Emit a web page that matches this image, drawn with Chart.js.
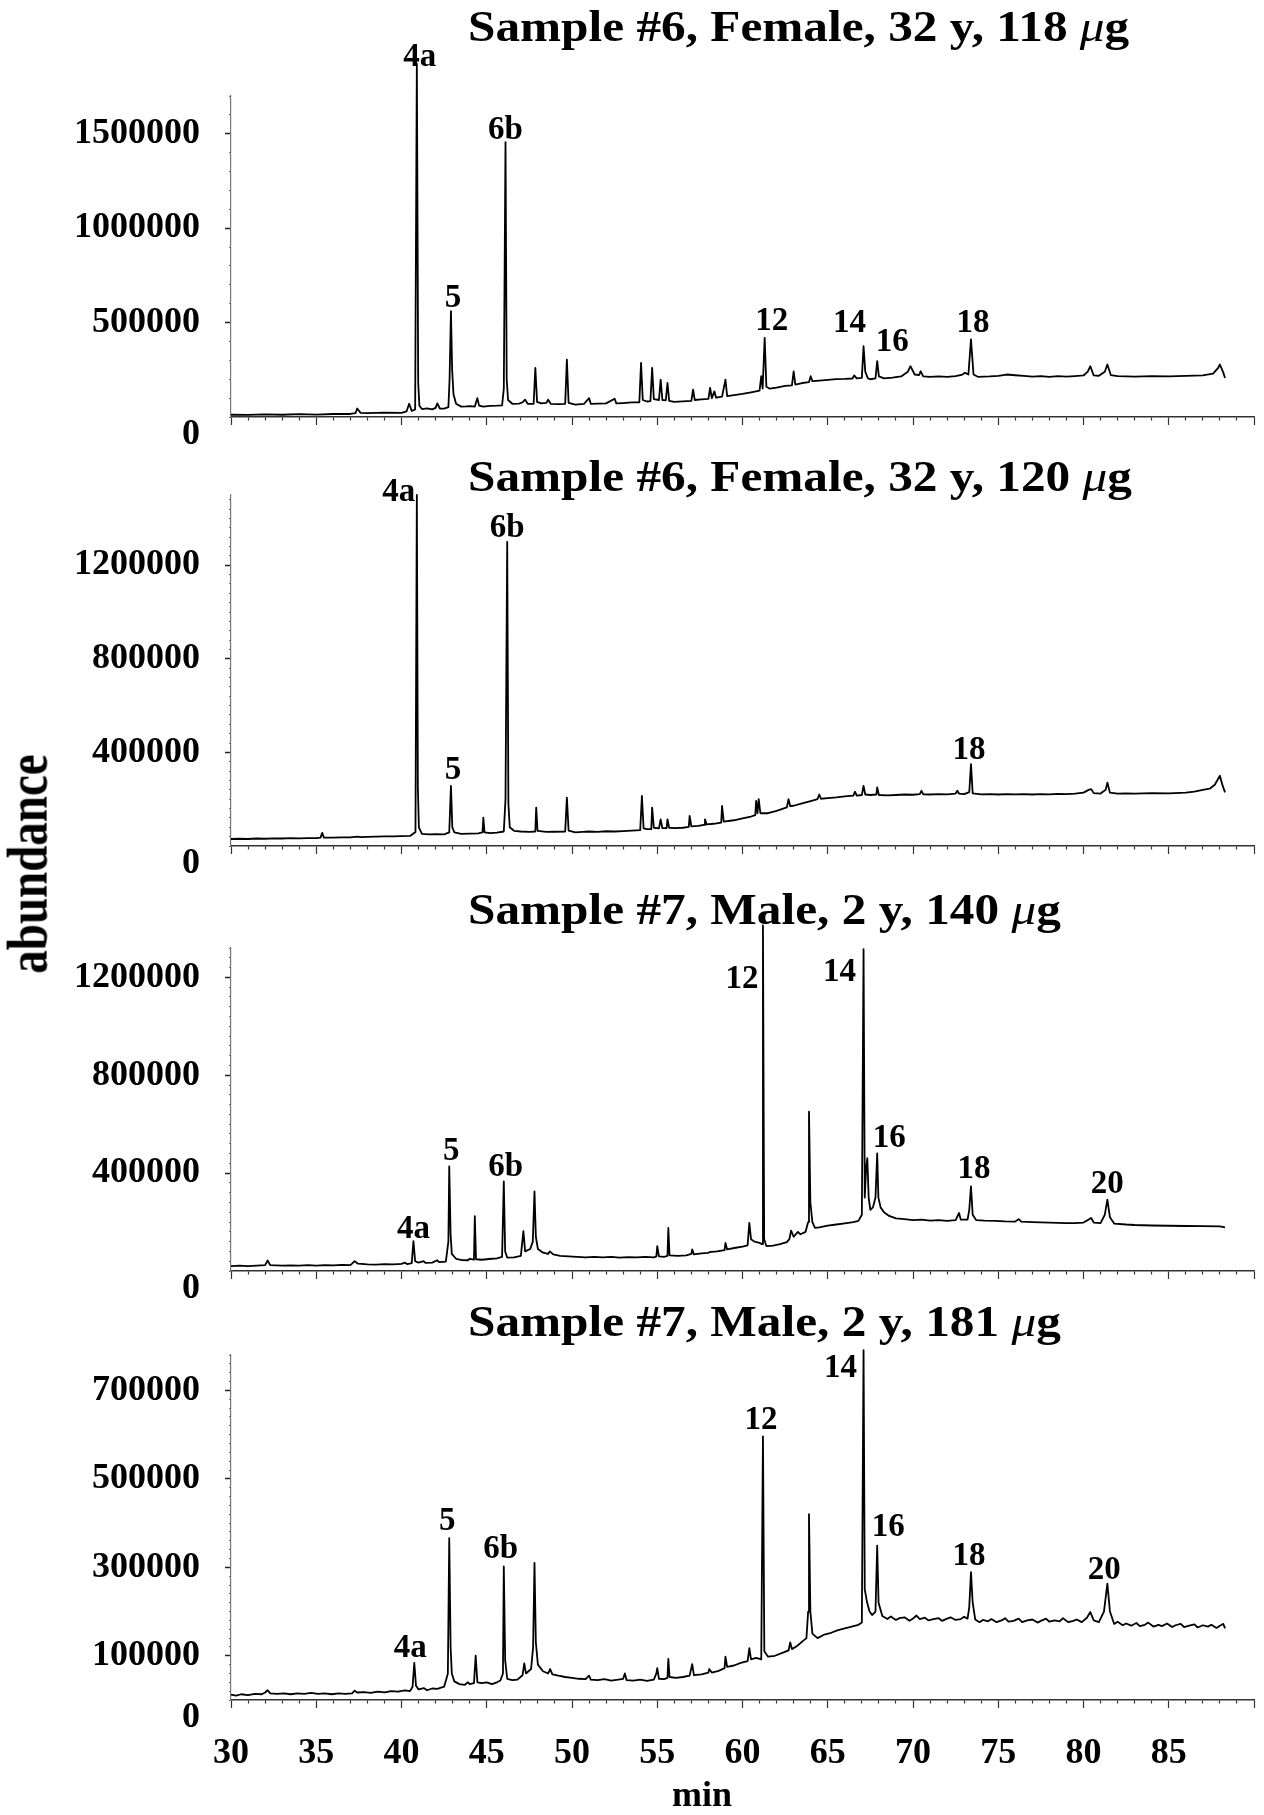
<!DOCTYPE html>
<html>
<head>
<meta charset="utf-8">
<title>GC-MS traces, samples #6 and #7</title>
<script src="https://cdn.jsdelivr.net/npm/chart.js@4.4.1/dist/chart.umd.min.js"></script>
<style>
  html, body { margin: 0; padding: 0; background: #fff; }
  #page { position: relative; width: 1264px; height: 1815px; overflow: hidden; }
  #page canvas { position: absolute; left: 0; }
  #ylabel {
    position: absolute; left: 27px; top: 864px;
    transform: translate(-50%, -50%) rotate(-90deg) scaleY(1.2);
    font: bold 47px "Liberation Serif", "Times New Roman", serif;
    white-space: nowrap; color: #000;
  }
</style>
</head>
<body>
<div id="page">
  <canvas id="c1" width="1264" height="470" style="top:0px"></canvas>
  <canvas id="c2" width="1264" height="460" style="top:440px"></canvas>
  <canvas id="c3" width="1264" height="440" style="top:880px"></canvas>
  <canvas id="c4" width="1264" height="515" style="top:1300px"></canvas>
  <div id="ylabel">abundance</div>
</div>
<script>
// retention time (min) vs abundance, one trace per run
var titles = [
  'Sample #6, Female, 32 y, 118 μg',
  'Sample #6, Female, 32 y, 120 μg',
  'Sample #7, Male, 2 y, 140 μg',
  'Sample #7, Male, 2 y, 181 μg'
];

var xTickLabels = [30, 35, 40, 45, 50, 55, 60, 65, 70, 75, 80, 85];

var yLabels6a = [500000, 1000000, 1500000];
var yLabels6b = [400000, 800000, 1200000];
var yLabels7a = [400000, 800000, 1200000];
var yLabels7b = [100000, 300000, 500000, 700000];

var trace6a = [
  [30.0, 12000], [31.0, 11000], [32.0, 14000], [33.0, 12000], [34.0, 15000], [35.0, 13000],
  [36.0, 16000], [37.0, 16000], [37.3, 20000], [37.4, 45000], [37.6, 22000], [38.0, 20000],
  [39.0, 23000], [40.0, 22000], [40.3, 30000], [40.45, 70000], [40.6, 32000], [40.8, 40000],
  [40.9, 1871000], [40.98, 180000], [41.05, 60000], [41.2, 42000], [41.5, 46000], [41.8, 40000],
  [42.0, 48000], [42.1, 72000], [42.25, 45000], [42.5, 44000], [42.75, 52000], [42.82, 200000],
  [42.9, 561000], [42.97, 250000], [43.05, 120000], [43.2, 70000], [43.5, 55000], [43.8, 56000],
  [44.0, 58000], [44.3, 55000], [44.45, 100000], [44.55, 60000], [44.8, 55000], [45.2, 59000],
  [45.6, 60000], [45.9, 62000], [46.0, 150000], [46.1, 1455000], [46.17, 200000], [46.25, 90000],
  [46.5, 70000], [46.9, 71000], [47.1, 78000], [47.25, 92000], [47.4, 70000], [47.75, 70000],
  [47.85, 260000], [47.95, 80000], [48.2, 72000], [48.5, 75000], [48.6, 92000], [48.75, 70000],
  [49.2, 68000], [49.6, 70000], [49.7, 304000], [49.8, 75000], [50.2, 66000], [50.7, 69000],
  [51.0, 100000], [51.1, 70000], [51.5, 71000], [52.0, 72000], [52.5, 97000], [52.6, 72000],
  [53.0, 74000], [53.5, 77000], [53.95, 78000], [54.05, 287000], [54.15, 90000], [54.4, 82000],
  [54.6, 84000], [54.7, 260000], [54.8, 95000], [55.1, 90000], [55.2, 198000], [55.3, 90000],
  [55.5, 88000], [55.6, 180000], [55.7, 85000], [56.0, 80000], [56.5, 83000], [57.0, 85000],
  [57.1, 145000], [57.2, 90000], [57.6, 93000], [58.0, 96000], [58.1, 154000], [58.2, 100000],
  [58.35, 136000], [58.45, 102000], [58.8, 108000], [59.0, 198000], [59.1, 110000], [59.5, 116000],
  [60.0, 122000], [60.5, 131000], [61.0, 140000], [61.1, 216000], [61.18, 150000], [61.3, 419000],
  [61.4, 160000], [61.6, 150000], [62.0, 156000], [62.5, 165000], [62.9, 168000], [63.0, 242000],
  [63.1, 172000], [63.5, 180000], [63.9, 185000], [64.0, 216000], [64.1, 190000], [64.5, 193000],
  [65.0, 197000], [65.5, 201000], [66.0, 202000], [66.45, 204000], [66.55, 220000], [66.7, 205000],
  [67.0, 207000], [67.1, 375000], [67.2, 240000], [67.35, 205000], [67.5, 200000], [67.8, 204000],
  [67.9, 296000], [68.0, 215000], [68.3, 205000], [68.8, 209000], [69.3, 215000], [69.7, 240000],
  [69.85, 269000], [70.1, 225000], [70.35, 222000], [70.45, 242000], [70.6, 215000], [71.0, 212000],
  [71.5, 215000], [72.0, 213000], [72.5, 217000], [72.9, 225000], [73.05, 234000], [73.25, 225000],
  [73.4, 411000], [73.55, 225000], [73.8, 213000], [74.5, 215000], [75.0, 218000], [75.5, 225000],
  [76.0, 221000], [76.5, 218000], [77.0, 214000], [77.5, 217000], [78.0, 213000], [78.5, 216000],
  [79.0, 214000], [79.5, 217000], [80.0, 220000], [80.25, 240000], [80.4, 269000], [80.6, 220000],
  [80.9, 218000], [81.25, 240000], [81.4, 278000], [81.6, 222000], [82.0, 216000], [83.0, 214000],
  [84.0, 217000], [85.0, 215000], [86.0, 218000], [87.0, 220000], [87.6, 230000], [87.9, 260000],
  [88.0, 278000], [88.2, 235000], [88.3, 207000]
];

var trace6b = [
  [30.0, 30000], [30.5, 31000], [31.0, 30000], [31.5, 32000], [32.0, 31000], [32.5, 33000],
  [33.0, 32000], [33.5, 34000], [34.0, 33000], [34.5, 34000], [35.0, 34000], [35.25, 36000],
  [35.35, 56000], [35.45, 36000], [36.0, 36000], [36.5, 37000], [37.0, 37000], [37.4, 40000],
  [37.6, 38000], [38.0, 39000], [38.5, 40000], [39.0, 41000], [39.5, 41000], [40.0, 42000],
  [40.5, 43000], [40.82, 60000], [40.9, 1500000], [40.96, 250000], [41.02, 80000], [41.2, 52000],
  [41.6, 50000], [42.0, 51000], [42.5, 50000], [42.8, 58000], [42.9, 257000], [42.98, 80000],
  [43.1, 58000], [43.5, 52000], [44.0, 53000], [44.5, 54000], [44.75, 58000], [44.8, 121000],
  [44.87, 58000], [45.2, 55000], [45.6, 57000], [46.0, 62000], [46.1, 200000], [46.2, 1300000],
  [46.27, 180000], [46.35, 80000], [46.6, 65000], [47.0, 62000], [47.5, 60000], [47.85, 62000],
  [47.9, 164000], [47.98, 65000], [48.5, 60000], [49.0, 61000], [49.6, 62000], [49.7, 207000],
  [49.8, 66000], [50.2, 58000], [50.6, 60000], [51.0, 62000], [51.5, 60000], [52.0, 63000],
  [52.5, 62000], [53.0, 64000], [53.5, 66000], [54.0, 68000], [54.1, 214000], [54.2, 75000],
  [54.4, 72000], [54.65, 72000], [54.7, 164000], [54.8, 78000], [55.1, 75000], [55.2, 114000],
  [55.3, 76000], [55.55, 76000], [55.6, 114000], [55.7, 78000], [56.0, 76000], [56.5, 78000],
  [56.85, 82000], [56.9, 129000], [57.0, 84000], [57.4, 86000], [57.75, 90000], [57.8, 114000],
  [57.9, 92000], [58.3, 95000], [58.75, 100000], [58.8, 171000], [58.9, 104000], [59.5, 110000],
  [60.0, 118000], [60.5, 126000], [60.75, 132000], [60.8, 193000], [60.88, 140000], [60.95, 200000],
  [61.05, 140000], [61.5, 140000], [62.0, 150000], [62.6, 165000], [62.7, 200000], [62.8, 170000],
  [63.0, 172000], [63.5, 182000], [64.0, 192000], [64.4, 200000], [64.5, 220000], [64.6, 202000],
  [65.0, 205000], [65.5, 208000], [66.0, 212000], [66.5, 215000], [66.6, 232000], [66.7, 215000],
  [67.0, 218000], [67.1, 257000], [67.2, 220000], [67.5, 218000], [67.85, 220000], [67.9, 250000],
  [68.0, 218000], [68.5, 216000], [69.0, 218000], [69.5, 220000], [70.0, 219000], [70.4, 222000],
  [70.5, 236000], [70.6, 221000], [71.0, 220000], [71.5, 222000], [72.0, 221000], [72.5, 224000],
  [72.6, 236000], [72.7, 224000], [73.0, 222000], [73.3, 230000], [73.4, 350000], [73.5, 225000],
  [74.0, 221000], [74.5, 222000], [75.0, 220000], [75.5, 222000], [76.0, 221000], [76.5, 222000],
  [77.0, 220000], [77.5, 222000], [78.0, 221000], [78.5, 223000], [79.0, 222000], [79.5, 224000],
  [80.0, 228000], [80.3, 240000], [80.45, 243000], [80.6, 226000], [81.0, 224000], [81.3, 240000],
  [81.4, 271000], [81.55, 228000], [82.0, 224000], [82.5, 225000], [83.0, 224000], [84.0, 226000],
  [85.0, 225000], [86.0, 228000], [86.5, 232000], [87.0, 240000], [87.4, 245000], [87.7, 262000],
  [88.0, 300000], [88.15, 260000], [88.3, 229000]
];

var trace7a = [
  [30.0, 20000], [30.5, 22000], [31.0, 20000], [31.5, 22000], [32.0, 24000], [32.15, 43000],
  [32.3, 24000], [33.0, 22000], [33.5, 23000], [34.0, 22000], [34.5, 24000], [35.0, 22000],
  [35.5, 24000], [36.0, 23000], [36.5, 25000], [37.0, 24000], [37.1, 30000], [37.25, 40000],
  [37.45, 30000], [38.0, 27000], [38.5, 26000], [39.0, 28000], [39.5, 27000], [40.0, 29000],
  [40.2, 34000], [40.35, 28000], [40.6, 32000], [40.7, 122000], [40.8, 40000], [41.0, 34000],
  [41.3, 40000], [41.4, 33000], [41.8, 34000], [42.1, 44000], [42.2, 36000], [42.6, 38000],
  [42.75, 120000], [42.8, 427000], [42.88, 150000], [42.95, 70000], [43.2, 50000], [43.5, 45000],
  [43.9, 44000], [44.0, 50000], [44.25, 46000], [44.3, 224000], [44.37, 48000], [44.7, 46000],
  [45.0, 48000], [45.3, 50000], [45.6, 52000], [45.9, 58000], [46.0, 366000], [46.08, 80000],
  [46.2, 55000], [46.6, 56000], [47.0, 62000], [47.15, 163000], [47.25, 80000], [47.55, 90000],
  [47.7, 120000], [47.8, 325000], [47.88, 140000], [48.0, 90000], [48.3, 75000], [48.6, 70000],
  [48.7, 80000], [48.9, 68000], [49.3, 62000], [49.8, 60000], [50.3, 58000], [50.8, 56000],
  [51.3, 58000], [51.8, 56000], [52.3, 58000], [52.8, 55000], [53.3, 57000], [53.8, 56000],
  [54.3, 58000], [54.8, 56000], [54.95, 60000], [55.0, 102000], [55.1, 60000], [55.4, 58000],
  [55.6, 62000], [55.65, 176000], [55.72, 64000], [56.2, 62000], [56.7, 64000], [57.0, 70000],
  [57.05, 88000], [57.15, 68000], [57.6, 72000], [58.0, 74000], [58.05, 77000], [58.5, 80000],
  [58.95, 85000], [59.0, 115000], [59.1, 88000], [59.6, 95000], [60.0, 100000], [60.3, 105000],
  [60.4, 197000], [60.5, 130000], [60.7, 120000], [61.0, 115000], [61.15, 110000], [61.2, 1412000],
  [61.27, 130000], [61.4, 102000], [61.8, 104000], [62.2, 110000], [62.6, 118000], [62.75, 130000],
  [62.85, 165000], [63.0, 140000], [63.25, 160000], [63.4, 150000], [63.7, 160000], [63.85, 200000],
  [63.9, 651000], [63.98, 280000], [64.1, 200000], [64.25, 176000], [64.5, 178000], [65.0, 185000],
  [65.5, 190000], [66.0, 195000], [66.5, 200000], [66.8, 205000], [67.0, 230000], [67.1, 1315000],
  [67.17, 300000], [67.25, 420000], [67.32, 461000], [67.4, 300000], [67.5, 250000], [67.65, 260000],
  [67.8, 300000], [67.9, 481000], [67.97, 300000], [68.1, 260000], [68.3, 240000], [68.6, 225000],
  [69.0, 215000], [69.5, 212000], [70.0, 208000], [70.5, 210000], [71.0, 206000], [71.5, 208000],
  [72.0, 205000], [72.5, 208000], [72.7, 237000], [72.8, 210000], [73.2, 210000], [73.3, 250000],
  [73.4, 346000], [73.5, 230000], [73.7, 208000], [74.2, 206000], [74.8, 205000], [75.4, 203000],
  [76.0, 202000], [76.2, 212000], [76.35, 202000], [77.0, 200000], [77.5, 199000], [78.0, 198000],
  [78.5, 197000], [79.0, 196000], [79.5, 196000], [80.0, 198000], [80.3, 210000], [80.45, 217000],
  [80.6, 198000], [81.0, 196000], [81.25, 230000], [81.4, 292000], [81.55, 220000], [81.8, 194000],
  [82.5, 190000], [83.0, 188000], [84.0, 186000], [85.0, 185000], [86.0, 184000], [87.0, 183000],
  [88.0, 182000], [88.3, 178000]
];

var trace7b = [
  [30.0, 12000], [30.3, 10000], [30.6, 13000], [31.0, 11000], [31.4, 14000], [31.8, 13000],
  [32.0, 17000], [32.15, 22000], [32.3, 15000], [32.7, 14000], [33.1, 15000], [33.5, 13000],
  [33.9, 15000], [34.3, 14000], [34.7, 16000], [35.1, 14000], [35.5, 15000], [35.9, 13000],
  [36.3, 15000], [36.7, 14000], [37.1, 15000], [37.25, 21000], [37.4, 17000], [37.8, 18000],
  [38.2, 16000], [38.6, 19000], [39.0, 17000], [39.4, 20000], [39.8, 19000], [40.2, 22000],
  [40.5, 20000], [40.65, 30000], [40.75, 84000], [40.85, 32000], [41.0, 24000], [41.3, 27000],
  [41.5, 22000], [41.8, 26000], [42.1, 25000], [42.5, 30000], [42.72, 60000], [42.8, 366000],
  [42.88, 120000], [42.95, 60000], [43.1, 42000], [43.4, 36000], [43.7, 34000], [43.9, 40000],
  [44.0, 36000], [44.25, 38000], [44.35, 100000], [44.45, 40000], [44.7, 38000], [45.0, 40000],
  [45.3, 36000], [45.6, 40000], [45.8, 44000], [45.95, 60000], [46.0, 302000], [46.08, 90000],
  [46.2, 48000], [46.5, 45000], [46.8, 46000], [47.1, 56000], [47.2, 83000], [47.3, 60000],
  [47.6, 70000], [47.72, 120000], [47.8, 310000], [47.88, 130000], [48.0, 80000], [48.3, 65000],
  [48.6, 60000], [48.72, 70000], [48.85, 58000], [49.2, 55000], [49.6, 52000], [50.0, 50000],
  [50.4, 48000], [50.8, 47000], [51.0, 55000], [51.1, 46000], [51.5, 45000], [51.9, 47000],
  [52.3, 44000], [52.7, 46000], [53.0, 48000], [53.1, 60000], [53.2, 45000], [53.6, 44000],
  [54.0, 46000], [54.4, 43000], [54.8, 46000], [54.95, 60000], [55.0, 72000], [55.1, 48000],
  [55.4, 47000], [55.6, 50000], [55.65, 93000], [55.72, 52000], [56.1, 50000], [56.5, 52000],
  [56.9, 55000], [57.05, 81000], [57.15, 56000], [57.6, 58000], [58.0, 62000], [58.05, 70000],
  [58.2, 62000], [58.6, 66000], [58.95, 72000], [59.0, 98000], [59.1, 75000], [59.5, 78000],
  [59.9, 84000], [60.3, 88000], [60.4, 117000], [60.5, 92000], [60.8, 95000], [61.1, 92000],
  [61.2, 596000], [61.28, 110000], [61.5, 98000], [61.9, 100000], [62.3, 106000], [62.7, 112000],
  [62.8, 130000], [62.9, 115000], [63.2, 122000], [63.5, 132000], [63.75, 140000], [63.85, 200000],
  [63.9, 420000], [63.98, 200000], [64.1, 150000], [64.4, 140000], [64.8, 148000], [65.2, 152000],
  [65.6, 158000], [66.0, 162000], [66.4, 166000], [66.8, 170000], [67.0, 175000], [67.1, 791000],
  [67.17, 250000], [67.3, 222000], [67.45, 200000], [67.6, 192000], [67.8, 200000], [67.9, 349000],
  [67.98, 220000], [68.2, 190000], [68.5, 183000], [68.7, 189000], [69.0, 181000], [69.2, 185000],
  [69.5, 187000], [69.8, 179000], [70.0, 184000], [70.2, 191000], [70.4, 183000], [70.7, 186000],
  [70.9, 180000], [71.2, 183000], [71.5, 185000], [71.7, 179000], [72.0, 184000], [72.2, 187000],
  [72.5, 181000], [72.8, 183000], [73.0, 188000], [73.2, 184000], [73.3, 210000], [73.4, 289000],
  [73.5, 220000], [73.65, 182000], [73.9, 176000], [74.1, 181000], [74.4, 178000], [74.6, 183000],
  [74.9, 176000], [75.2, 180000], [75.4, 185000], [75.6, 177000], [75.9, 179000], [76.2, 184000],
  [76.4, 176000], [76.7, 180000], [77.0, 182000], [77.3, 175000], [77.5, 179000], [77.8, 184000],
  [78.0, 177000], [78.3, 180000], [78.6, 178000], [78.8, 185000], [79.1, 176000], [79.4, 179000],
  [79.6, 182000], [79.9, 176000], [80.2, 186000], [80.4, 199000], [80.6, 180000], [80.9, 176000],
  [81.2, 200000], [81.4, 263000], [81.55, 200000], [81.8, 172000], [82.0, 177000], [82.3, 169000],
  [82.5, 173000], [82.8, 168000], [83.1, 174000], [83.3, 167000], [83.6, 170000], [83.8, 175000],
  [84.1, 166000], [84.4, 170000], [84.6, 167000], [84.9, 173000], [85.2, 165000], [85.4, 169000],
  [85.7, 172000], [85.9, 165000], [86.2, 168000], [86.5, 171000], [86.7, 164000], [87.0, 169000],
  [87.3, 166000], [87.5, 170000], [87.8, 163000], [88.0, 168000], [88.2, 172000], [88.3, 162000]
];

// named peaks and their retention times
var peakNames6a = ['4a', '5', '6b', '12', '14', '16', '18'];
var peakTimes6a = [40.9, 42.9, 46.1, 61.3, 67.1, 67.9, 73.4];
var peakNames6b = ['4a', '5', '6b', '18'];
var peakTimes6b = [40.9, 42.9, 46.2, 73.4];
var peakNames7a = ['4a', '5', '6b', '12', '14', '16', '18', '20'];
var peakTimes7a = [40.7, 42.8, 46.0, 61.2, 67.1, 67.9, 73.4, 81.4];
var peakNames7b = ['4a', '5', '6b', '12', '14', '16', '18', '20'];
var peakTimes7b = [40.75, 42.8, 46.0, 61.2, 67.1, 67.9, 73.4, 81.4];

var SERIF = '"Liberation Serif", "Times New Roman", serif';
var tickFont = { family: SERIF, size: 36, weight: 'bold' };

// per-panel layout: canvas-relative sizes, label nudges in px [dx, baseline dy]
var panels = {
  c1: { trace: trace6a, title: titles[0], names: peakNames6a, times: peakTimes6a, yLabels: yLabels6a,
        yMax: 1700000, yStep: 100000, padTop: 96, axisHeight: 53, titleY: 41, showMinutes: false,
        nudge: { '4a': [3, 2], '5': [2, -4], '6b': [0, -3], '12': [7, -8], '14': [-14, -14], '16': [15, -10], '18': [2, -7] } },
  c2: { trace: trace6b, title: titles[1], names: peakNames6b, times: peakTimes6b, yLabels: yLabels6b,
        yMax: 1500000, yStep: 40000, padTop: 55, axisHeight: 54, titleY: 51, showMinutes: false,
        nudge: { '4a': [-18, 6], '5': [2, -7], '6b': [0, -5], '18': [-2, -5] } },
  c3: { trace: trace7a, title: titles[2], names: peakNames7a, times: peakTimes7a, yLabels: yLabels7a,
        yMax: 1320000, yStep: 40000, padTop: 68, axisHeight: 49, titleY: 44, showMinutes: false,
        nudge: { '4a': [0, -3], '5': [2, -7], '6b': [2, -5], '12': [-21, 63], '14': [-24, 32], '16': [12, -6], '18': [3, -8], '20': [0, -7] } },
  c4: { trace: trace7b, title: titles[3], names: peakNames7b, times: peakTimes7b, yLabels: yLabels7b,
        yMax: 780000, yStep: 20000, padTop: 55, axisHeight: 115, titleY: 36, showMinutes: true,
        nudge: { '4a': [-4, -6], '5': [-2, -8], '6b': [-3, -8], '12': [-2, -7], '14': [-23, 27], '16': [11, -10], '18': [-2, -7], '20': [-3, -5] } }
};

function drawTitle(ctx, text, x, baseline) {
  var parts = text.split('μ');
  ctx.save();
  ctx.translate(x, baseline);
  ctx.scale(1.12, 1);
  ctx.textAlign = 'left';
  ctx.textBaseline = 'alphabetic';
  ctx.font = 'bold 44px ' + SERIF;
  ctx.fillText(parts[0], 0, 0);
  var cx = ctx.measureText(parts[0]).width;
  ctx.font = 'italic 44px ' + SERIF;
  ctx.fillText('μ', cx, 0);
  cx += ctx.measureText('μ').width;
  ctx.font = 'bold 44px ' + SERIF;
  ctx.fillText(parts[1], cx, 0);
  ctx.restore();
}

var panelText = {
  id: 'panelText',
  afterDatasetsDraw: function (chart) {
    var p = panels[chart.canvas.id];
    var ctx = chart.ctx;
    var x = chart.scales.x, y = chart.scales.y;
    ctx.save();
    ctx.fillStyle = '#000';

    drawTitle(ctx, p.title, 468, p.titleY);

    // the zero label sits a little under the axis line
    ctx.font = 'bold 36px ' + SERIF;
    ctx.textAlign = 'right';
    ctx.textBaseline = 'middle';
    ctx.fillText('0', 200, y.bottom + 18);

    ctx.font = 'bold 33px ' + SERIF;
    ctx.textAlign = 'center';
    ctx.textBaseline = 'alphabetic';
    p.names.forEach(function (name, i) {
      var t = p.times[i];
      var pt = p.trace.find(function (d) { return d[0] === t; });
      var n = p.nudge[name] || [0, -6];
      ctx.fillText(name, x.getPixelForValue(t) + n[0], y.getPixelForValue(pt[1]) + n[1]);
    });

    if (p.showMinutes) {
      ctx.font = 'bold 36px ' + SERIF;
      ctx.textBaseline = 'middle';
      ctx.fillText('min', 702, chart.height - 18);
    }
    ctx.restore();
  }
};

function drawPanel(id) {
  var p = panels[id];
  var ctx = document.getElementById(id).getContext('2d');
  var yMinor = [];
  for (var v = 0; v <= p.yMax; v += p.yStep) yMinor.push(v);
  var xMinor = [];
  for (var m = 30; m <= 90; m++) xMinor.push(m);

  return new Chart(ctx, {
    type: 'line',
    data: {
      datasets: [{
        data: p.trace.map(function (d) { return { x: d[0], y: d[1] }; }),
        borderColor: '#000',
        borderWidth: 1.8,
        borderJoinStyle: 'round',
        pointRadius: 0,
        tension: 0,
        clip: false
      }]
    },
    options: {
      responsive: false,
      animation: false,
      events: [],
      layout: { padding: { top: p.padTop, right: 10, left: 0, bottom: 0 } },
      plugins: { legend: { display: false }, tooltip: { enabled: false } },
      scales: {
        x: {
          type: 'linear', min: 30, max: 90,
          afterBuildTicks: function (s) { s.ticks = xMinor.map(function (t) { return { value: t }; }); },
          afterFit: function (s) {
            // fixed band under the plot; labels must not push the plot edges in
            s.height = p.axisHeight;
            s.paddingLeft = 0; s.paddingRight = 0;
          },
          ticks: {
            display: p.showMinutes, autoSkip: false, maxRotation: 0, padding: 24,
            font: tickFont, color: '#000',
            callback: function (val) { return xTickLabels.indexOf(val) >= 0 ? String(val) : ''; }
          },
          grid: {
            drawOnChartArea: false, tickLength: 8, tickColor: '#333', tickWidth: 1.2,
            tickBorderDash: function (c) { return c.tick && c.tick.value % 5 === 0 ? [] : [3, 20]; }
          },
          border: { color: '#333', width: 1.5 }
        },
        y: {
          type: 'linear', min: 0, max: p.yMax,
          afterBuildTicks: function (s) { s.ticks = yMinor.map(function (t) { return { value: t }; }); },
          afterFit: function (s) {
            s.width = 231;
            s.paddingTop = 0; s.paddingBottom = 0;
          },
          ticks: {
            autoSkip: false, padding: 25, font: tickFont, color: '#000',
            callback: function (val) { return p.yLabels.indexOf(val) >= 0 ? String(val) : ''; }
          },
          grid: {
            drawOnChartArea: false, tickLength: 6,
            tickColor: function (c) { return c.tick && p.yLabels.indexOf(c.tick.value) >= 0 ? '#222' : '#666'; },
            tickWidth: function (c) { return c.tick && p.yLabels.indexOf(c.tick.value) >= 0 ? 1.5 : 1.2; },
            tickBorderDash: function (c) { return c.tick && p.yLabels.indexOf(c.tick.value) >= 0 ? [] : [0, 4, 2, 20]; }
          },
          border: { color: '#777', width: 1.2, dash: [1.5, 3.5] }
        }
      }
    },
    plugins: [panelText]
  });
}

['c1', 'c2', 'c3', 'c4'].forEach(drawPanel);
</script>
</body>
</html>
